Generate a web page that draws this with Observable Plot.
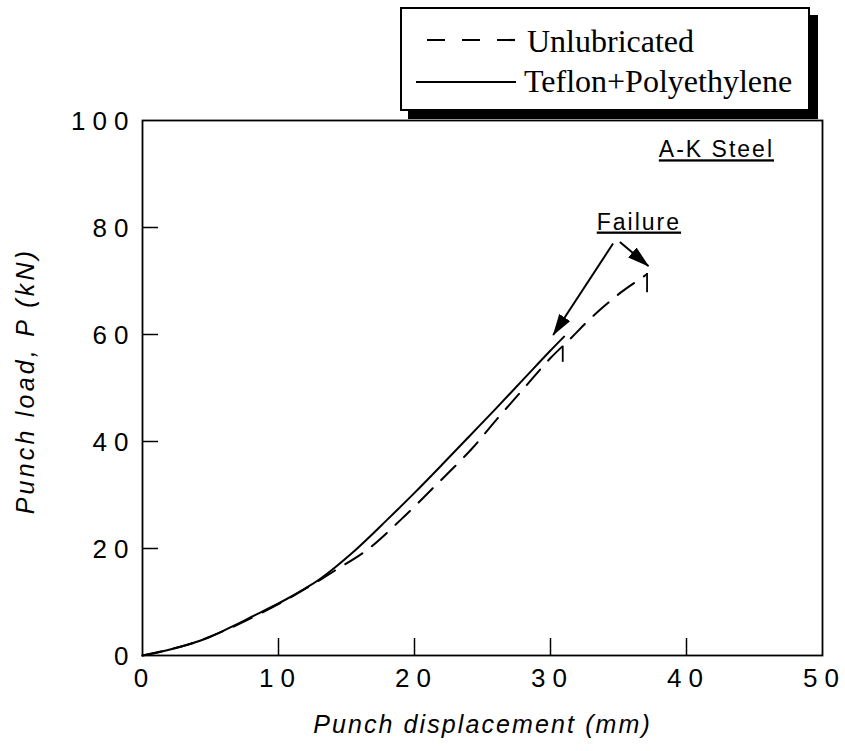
<!DOCTYPE html>
<html>
<head>
<meta charset="utf-8">
<script src="https://cdn.jsdelivr.net/npm/d3@7"></script>
<script src="https://cdn.jsdelivr.net/npm/@observablehq/plot@0.6"></script>
<style>
  body { margin: 0; background: #fff; }
  #wrap { position: relative; width: 845px; height: 751px; }
  #legend { position: absolute; left: 400px; top: 7px; width: 406px; height: 100px;
    border: 2px solid #000; box-shadow: 8px 8px 0 #000; background: #fff; }
  #legend svg { display: block; }
  g[aria-description="xticklabels"] text, g[aria-description="yticklabels"] text { letter-spacing: 7px; }
  g[aria-description="xtitle"] text { letter-spacing: 2.1px; }
  g[aria-description="ytitle"] text { letter-spacing: 3.2px; }
  g[aria-description="notes"] text { letter-spacing: 2px; text-decoration: underline; }
</style>
</head>
<body>
<div id="wrap"></div>
<script>
// ---- data ----
const xTickValues = [0, 10, 20, 30, 40, 50];
const yTickValues = [0, 20, 40, 60, 80, 100];
const seriesNames = ["Unlubricated", "Teflon+Polyethylene"];

const unlubDisp = [0, 3.3, 6.5, 10.2, 13.1, 14.1, 16.6, 19.0, 21.6, 24.2, 26.0, 28.0, 30.0, 31.5, 32.7, 34.0, 35.3, 36.6, 37.1];
const unlubLoad = [0, 2.0, 5.2, 9.9, 14.2, 15.8, 19.9, 25.4, 31.9, 38.6, 44.0, 49.8, 55.6, 59.3, 62.4, 65.4, 68.1, 70.4, 71.3];

const teflonDisp = [0, 1.5, 3.3, 5.0, 6.5, 8.0, 10.2, 12.0, 13.1, 15.6, 18.0, 20.0, 22.0, 24.0, 26.0, 28.0, 30.0, 31.0];
const teflonLoad = [0, 0.8, 2.0, 3.5, 5.3, 7.2, 10.0, 12.6, 14.4, 19.6, 25.4, 30.4, 35.6, 40.9, 46.2, 51.6, 57.0, 59.6];

// failure drops: [unlubricated, teflon]
const failDisp = [37.1, 30.9];
const failTop = [71.4, 57.8];
const failBottom = [67.8, 54.8];

const noteLabels = ["A-K Steel", "Failure"];
const noteX = [42.2, 36.5];
const noteY = [94.5, 81.0];

const arrowX1 = [34.6, 35.1];
const arrowY1 = [77.0, 77.3];
const arrowX2 = [30.2, 37.2];
const arrowY2 = [59.9, 72.8];

const xTitle = "Punch displacement (mm)";
const yTitle = "Punch load, P (kN)";

// ---- layout ----
const W = 845, H = 751, mt = 120, mr = 23, mb = 96, ml = 142;
const plotW = W - ml - mr, plotH = H - mt - mb;

const unlub = unlubDisp.map((x, i) => ({x, y: unlubLoad[i]}));
const teflon = teflonDisp.map((x, i) => ({x, y: teflonLoad[i]}));

const svg = Plot.plot({
  width: W, height: H,
  marginTop: mt, marginRight: mr, marginBottom: mb, marginLeft: ml,
  x: {domain: [0, 50], axis: null},
  y: {domain: [0, 100], axis: null},
  style: {fontFamily: '"Liberation Sans", Arial, Helvetica, sans-serif', background: "#fff", color: "#000"},
  marks: [
    Plot.frame({stroke: "#000", strokeWidth: 1.8}),
    Plot.ruleX(xTickValues.slice(1, -1), {x: d => d, stroke: "#000", strokeWidth: 1.5, insetTop: plotH - 17}),
    Plot.ruleY(yTickValues.slice(1, -1), {y: d => d, stroke: "#000", strokeWidth: 1.5, insetRight: plotW - 16}),
    Plot.text(xTickValues, {x: d => d, text: d => String(d), frameAnchor: "bottom", textAnchor: "middle", dx: 2, dy: 31, fontSize: 26, fill: "#000", ariaDescription: "xticklabels"}),
    Plot.text(yTickValues, {y: d => d, text: d => String(d), frameAnchor: "left", dx: -7, dy: 1, textAnchor: "end", fontSize: 26, fill: "#000", ariaDescription: "yticklabels"}),
    Plot.text([xTitle], {text: d => d, frameAnchor: "bottom", textAnchor: "middle", dy: 77, fontSize: 25, fontStyle: "italic", fill: "#000", ariaDescription: "xtitle"}),
    Plot.text([yTitle], {text: d => d, frameAnchor: "left", textAnchor: "middle", rotate: -90, dx: -117, dy: -7, fontSize: 25, fontStyle: "italic", fill: "#000", ariaDescription: "ytitle"}),
    Plot.line(unlub, {x: "x", y: "y", curve: "catmull-rom", stroke: "#000", strokeWidth: 2, strokeDasharray: "20,12"}),
    Plot.line(teflon, {x: "x", y: "y", curve: "catmull-rom", stroke: "#000", strokeWidth: 2}),
    Plot.ruleX(failDisp, {x: d => d, y1: (d, i) => failTop[i], y2: (d, i) => failBottom[i], stroke: "#000", strokeWidth: 1.8}),
    Plot.link(arrowX1, {x1: d => d, y1: (d, i) => arrowY1[i], x2: (d, i) => arrowX2[i], y2: (d, i) => arrowY2[i], stroke: "#000", strokeWidth: 2, ariaDescription: "failure-arrows"}),
    Plot.text(noteLabels, {x: (d, i) => noteX[i], y: (d, i) => noteY[i], text: d => d, fontSize: 23, fill: "#000", ariaDescription: "notes"})
  ]
});

// filled arrowheads on the failure arrows
const ns = "http://www.w3.org/2000/svg";
const defs = document.createElementNS(ns, "defs");
const marker = document.createElementNS(ns, "marker");
marker.setAttribute("id", "fillhead");
marker.setAttribute("markerUnits", "userSpaceOnUse");
marker.setAttribute("viewBox", "0 0 22 14");
marker.setAttribute("markerWidth", "22");
marker.setAttribute("markerHeight", "14");
marker.setAttribute("refX", "21");
marker.setAttribute("refY", "7");
marker.setAttribute("orient", "auto");
const head = document.createElementNS(ns, "path");
head.setAttribute("d", "M0,0.5L22,7L0,13.5Z");
head.setAttribute("fill", "#000");
marker.appendChild(head);
defs.appendChild(marker);
svg.insertBefore(defs, svg.firstChild);
let arrowPaths = svg.querySelectorAll('g[aria-description="failure-arrows"] path, g[aria-description="failure-arrows"] line');
if (!arrowPaths.length) arrowPaths = svg.querySelectorAll('g[aria-label="link"] path, g[aria-label="link"] line');
arrowPaths.forEach(p => p.setAttribute("marker-end", "url(#fillhead)"));

const wrap = document.getElementById("wrap");
wrap.appendChild(svg);

// legend box (above the plot frame)
const legend = document.createElement("div");
legend.id = "legend";
const dashes = ["18,17", null];
const sampleX1 = [25, 14], sampleX2 = [116, 114], rowY = [31, 73], textX = [125, 122], textBase = [43, 83];
legend.innerHTML = `<svg width="406" height="100" xmlns="${ns}">` +
  seriesNames.map((name, i) =>
    `<line x1="${sampleX1[i]}" x2="${sampleX2[i]}" y1="${rowY[i]}" y2="${rowY[i]}" stroke="#000" stroke-width="2.2"${dashes[i] ? ` stroke-dasharray="${dashes[i]}"` : ""}/>` +
    `<text x="${textX[i]}" y="${textBase[i]}" font-family="'Liberation Serif','Times New Roman',serif" font-size="32" fill="#000">${name}</text>`
  ).join("") + `</svg>`;
wrap.appendChild(legend);
</script>
</body>
</html>
